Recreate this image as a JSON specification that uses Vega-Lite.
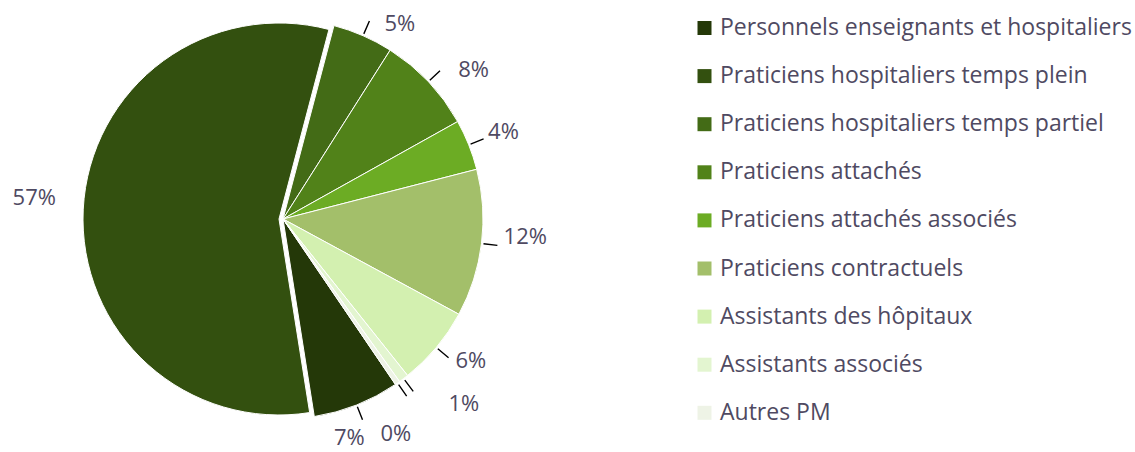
{
  "$schema": "https://vega.github.io/schema/vega-lite/v6.json",
  "width": 566,
  "height": 438,
  "padding": {"left": 0, "top": 0, "right": 569, "bottom": 14},
  "autosize": {"type": "none"},
  "background": "white",
  "config": {"view": {"stroke": null}},
  "data": {
    "values": [
      {"ord": 1, "cat": "Personnels enseignants et hospitaliers", "value": 7.0, "label": "7%"},
      {"ord": 2, "cat": "Praticiens hospitaliers temps plein", "value": 56.6, "label": "57%"},
      {"ord": 3, "cat": "Praticiens hospitaliers temps partiel", "value": 4.9, "label": "5%"},
      {"ord": 4, "cat": "Praticiens attachés", "value": 7.9, "label": "8%"},
      {"ord": 5, "cat": "Praticiens attachés associés", "value": 4.1, "label": "4%"},
      {"ord": 6, "cat": "Praticiens contractuels", "value": 11.9, "label": "12%"},
      {"ord": 7, "cat": "Assistants des hôpitaux", "value": 6.4, "label": "6%"},
      {"ord": 8, "cat": "Assistants associés", "value": 0.8, "label": "1%"},
      {"ord": 9, "cat": "Autres PM", "value": 0.4, "label": "0%"}
    ]
  },
  "encoding": {
    "theta": {"field": "value", "type": "quantitative", "stack": true, "scale": {"range": [2.5447, 8.8279]}},
    "order": {"field": "ord", "type": "quantitative", "sort": "ascending"}
  },
  "layer": [
    {
      "mark": {"type": "arc", "radius": 200, "stroke": "white", "strokeWidth": 1},
      "encoding": {
        "color": {
          "field": "cat", "type": "nominal",
          "scale": {
            "domain": ["Personnels enseignants et hospitaliers", "Praticiens hospitaliers temps plein", "Praticiens hospitaliers temps partiel", "Praticiens attachés", "Praticiens attachés associés", "Praticiens contractuels", "Assistants des hôpitaux", "Assistants associés", "Autres PM"],
            "range": ["#243808", "#33500f", "#436b16", "#518219", "#6cac24", "#a3bf6a", "#d3f0b0", "#e3f5d0", "#eef3e6"]
          },
          "legend": {"orient": "none", "legendX": 693, "legendY": 16.5, "title": null, "symbolType": "square", "symbolSize": 196, "symbolStrokeWidth": 0, "labelFont": "Open Sans", "labelFontSize": 23, "labelColor": "#4f4a62", "rowPadding": 24.1, "labelOffset": 4, "labelLimit": 500, "padding": 0}
        },
        "opacity": {"condition": {"test": "datum.ord === 2", "value": 0}, "value": 1}
      }
    },
    {
      "mark": {"type": "arc", "radius": 196, "xOffset": -4, "stroke": "white", "strokeWidth": 1},
      "encoding": {
        "color": {
          "field": "cat", "type": "nominal",
          "scale": {
            "domain": ["Personnels enseignants et hospitaliers", "Praticiens hospitaliers temps plein", "Praticiens hospitaliers temps partiel", "Praticiens attachés", "Praticiens attachés associés", "Praticiens contractuels", "Assistants des hôpitaux", "Assistants associés", "Autres PM"],
            "range": ["#243808", "#33500f", "#436b16", "#518219", "#6cac24", "#a3bf6a", "#d3f0b0", "#e3f5d0", "#eef3e6"]
          },
          "legend": {"orient": "none", "legendX": 693, "legendY": 16.5, "title": null, "symbolType": "square", "symbolSize": 196, "symbolStrokeWidth": 0, "labelFont": "Open Sans", "labelFontSize": 23, "labelColor": "#4f4a62", "rowPadding": 24.1, "labelOffset": 4, "labelLimit": 500, "padding": 0}
        },
        "opacity": {"condition": {"test": "datum.ord === 2", "value": 1}, "value": 0}
      }
    },
    {
      "mark": {"type": "arc", "radius": 216, "radius2": 202, "padAngle": 3.1416, "stroke": "black", "strokeWidth": 1.4, "fillOpacity": 0},
      "encoding": {
        "detail": {"field": "cat", "type": "nominal"},
        "strokeOpacity": {"condition": {"test": "datum.ord === 2", "value": 0}, "value": 1}
      }
    },
    {
      "mark": {"type": "text", "radius": 232, "dx": 24, "dy": 18, "font": "Open Sans", "fontSize": 22, "fill": "#4f4a62"},
      "encoding": {"detail": {"field": "cat", "type": "nominal"}, "text": {"condition": {"test": "datum.ord === 3", "field": "label"}, "value": ""}}
    },
    {
      "mark": {"type": "text", "radius": 232, "dx": 22, "dy": 10, "font": "Open Sans", "fontSize": 22, "fill": "#4f4a62"},
      "encoding": {"detail": {"field": "cat", "type": "nominal"}, "text": {"condition": {"test": "datum.ord === 4", "field": "label"}, "value": ""}}
    },
    {
      "mark": {"type": "text", "radius": 232, "dx": 5, "dy": -1, "font": "Open Sans", "fontSize": 22, "fill": "#4f4a62"},
      "encoding": {"detail": {"field": "cat", "type": "nominal"}, "text": {"condition": {"test": "datum.ord === 5", "field": "label"}, "value": ""}}
    },
    {
      "mark": {"type": "text", "radius": 232, "dx": 12, "dy": -10, "font": "Open Sans", "fontSize": 22, "fill": "#4f4a62"},
      "encoding": {"detail": {"field": "cat", "type": "nominal"}, "text": {"condition": {"test": "datum.ord === 6", "field": "label"}, "value": ""}}
    },
    {
      "mark": {"type": "text", "radius": 232, "dx": 10, "dy": -7, "font": "Open Sans", "fontSize": 22, "fill": "#4f4a62"},
      "encoding": {"detail": {"field": "cat", "type": "nominal"}, "text": {"condition": {"test": "datum.ord === 7", "field": "label"}, "value": ""}}
    },
    {
      "mark": {"type": "text", "radius": 232, "dx": 41, "dy": 0, "font": "Open Sans", "fontSize": 22, "fill": "#4f4a62"},
      "encoding": {"detail": {"field": "cat", "type": "nominal"}, "text": {"condition": {"test": "datum.ord === 8", "field": "label"}, "value": ""}}
    },
    {
      "mark": {"type": "text", "radius": 232, "dx": -20, "dy": 25, "font": "Open Sans", "fontSize": 22, "fill": "#4f4a62"},
      "encoding": {"detail": {"field": "cat", "type": "nominal"}, "text": {"condition": {"test": "datum.ord === 9", "field": "label"}, "value": ""}}
    },
    {
      "mark": {"type": "text", "radius": 232, "dx": -19, "dy": 3, "font": "Open Sans", "fontSize": 22, "fill": "#4f4a62"},
      "encoding": {"detail": {"field": "cat", "type": "nominal"}, "text": {"condition": {"test": "datum.ord === 1", "field": "label"}, "value": ""}}
    },
    {
      "mark": {"type": "text", "radius": 232, "dx": -17, "dy": -9, "font": "Open Sans", "fontSize": 22, "fill": "#4f4a62"},
      "encoding": {"detail": {"field": "cat", "type": "nominal"}, "text": {"condition": {"test": "datum.ord === 2", "field": "label"}, "value": ""}}
    }
  ]
}
